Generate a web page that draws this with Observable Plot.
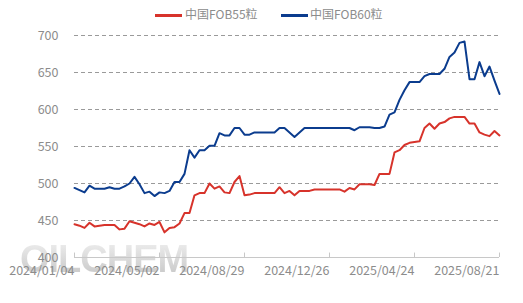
<!DOCTYPE html>
<html>
<head>
<meta charset="utf-8">
<script src="https://cdn.jsdelivr.net/npm/d3@7"></script>
<script src="https://cdn.jsdelivr.net/npm/@observablehq/plot@0.6"></script>
<style>
  html, body { margin: 0; padding: 0; background: #fff; }
  #wrap { position: relative; width: 523px; height: 303px; font-family: "Noto Sans CJK SC", "Noto Sans", sans-serif; }
  #legend { position: absolute; left: 0; top: 0; width: 523px; height: 26px; font-size: 12px; color: #8c8c8c; }
  .sw { position: absolute; top: 14px; width: 27px; height: 3px; }
  .lt { position: absolute; top: 6px; line-height: 16px; white-space: nowrap; }
  #chart { position: absolute; left: 0; top: 26px; z-index: 2; }
  #wm { position: absolute; left: 20px; top: 240px; z-index: 1; font-family: "Liberation Sans", Arial, sans-serif;
        font-weight: bold; font-size: 38px; line-height: 1; letter-spacing: -1px; white-space: nowrap;
        background: linear-gradient(180deg, #efefef 0%, #d8d8d8 55%, #c6c6c6 100%);
        -webkit-background-clip: text; background-clip: text; color: transparent; }
</style>
</head>
<body>
<div id="wrap">
  <div id="legend"></div>
  <div id="wm">OILCHEM</div>
  <div id="chart"></div>
</div>
<script>
// Series names and colours
const seriesNames = ["中国FOB55粒", "中国FOB60粒"];
const seriesColors = ["#d7332b", "#0b3c8e"];

// Weekly dates starting 2024/01/04 (86 weeks)
const startDate = "2024-01-04";
const weekCount = 86;

// 中国FOB55粒 (weekly)
const fob55 = [
  445, 443, 440, 447, 442, 443, 444, 444, 444, 438,
  439, 449, 447, 445, 442, 446, 444, 448, 434, 440,
  441, 446, 460, 460, 484, 487, 487, 500, 493, 496,
  488, 487, 502, 510, 484, 485, 487, 487, 487, 487,
  487, 495, 487, 490, 484, 490, 490, 490, 492, 492,
  492, 492, 492, 492, 489, 494, 492, 499, 499, 499,
  498, 513, 513, 513, 542, 545, 552, 555, 556, 557,
  575, 581, 574, 581, 583, 588, 590, 590, 590, 581,
  581, 569, 566, 564, 571, 565
];

// 中国FOB60粒 (weekly)
const fob60 = [
  494, 491, 488, 497, 493, 493, 493, 495, 493, 493,
  496, 500, 509, 499, 487, 489, 483, 488, 487, 490,
  502, 502, 513, 545, 535, 545, 545, 551, 551, 568,
  565, 565, 575, 575, 566, 566, 569, 569, 569, 569,
  569, 575, 575, 569, 563, 569, 575, 575, 575, 575,
  575, 575, 575, 575, 575, 575, 572, 576, 576, 576,
  575, 575, 577, 593, 596, 613, 626, 637, 637, 637,
  645, 648, 648, 648, 655, 671, 677, 690, 692, 641,
  641, 664, 645, 658, 639, 621
];

// Axis ticks
const yTicks = [400, 450, 500, 550, 600, 650, 700];
const xTickLabels = ["2024/01/04", "2024/05/02", "2024/08/29", "2024/12/26", "2025/04/24", "2025/08/21"];

const parse = d3.utcParse("%Y-%m-%d");
const parseLabel = d3.utcParse("%Y/%m/%d");
const t0 = parse(startDate);
const dates = d3.range(weekCount).map(i => d3.utcDay.offset(t0, 7 * i));
const xTicks = xTickLabels.map(parseLabel);

const data = [];
[fob55, fob60].forEach((arr, s) => arr.forEach((v, i) => data.push({date: dates[i], value: v, series: seriesNames[s]})));

// Legend
const legend = document.getElementById("legend");
const legendPos = [{sw: 155, tx: 185}, {sw: 281, tx: 310}];
seriesNames.forEach((n, i) => {
  const sw = document.createElement("div");
  sw.className = "sw"; sw.style.left = legendPos[i].sw + "px"; sw.style.background = seriesColors[i];
  const t = document.createElement("div");
  t.className = "lt"; t.style.left = legendPos[i].tx + "px"; t.textContent = n;
  legend.appendChild(sw); legend.appendChild(t);
});

const chart = Plot.plot({
  width: 523,
  height: 277,
  marginTop: 9,
  marginBottom: 46,
  marginLeft: 74,
  marginRight: 24,
  style: {fontFamily: "'Noto Sans CJK SC', 'Noto Sans', sans-serif", fontSize: "12.5px", background: "transparent", overflow: "visible"},
  x: {type: "utc", domain: [dates[0], dates[dates.length - 1]], axis: null},
  y: {domain: [400, 700], axis: null},
  color: {domain: seriesNames, range: seriesColors},
  marks: [
    // grid
    Plot.ruleY(yTicks.filter(d => d > 400), {y: d => d, stroke: "#9a9a9a", strokeDasharray: "4,3", strokeWidth: 1}),
    Plot.ruleY([400], {stroke: "#c8c8c8", strokeWidth: 1}),
    Plot.ruleX(xTicks, {x: d => d, y1: 400, y2: 406, stroke: "#c8c8c8"}),
    // y labels
    Plot.text(yTicks, {y: d => d, frameAnchor: "left", textAnchor: "end", dx: -16, fill: "#8c8c8c", fontSize: 12.5}),
    // x labels
    Plot.text(xTicks, {x: d => d, frameAnchor: "bottom", textAnchor: "end", lineAnchor: "middle", dy: 13, text: (d, i) => xTickLabels[i], fill: "#8c8c8c", fontSize: 12.5}),
    // lines
    Plot.line(data, {x: "date", y: "value", stroke: "series", z: "series", strokeWidth: 2, strokeLinejoin: "round"})
  ]
});
document.getElementById("chart").appendChild(chart);
</script>
</body>
</html>
